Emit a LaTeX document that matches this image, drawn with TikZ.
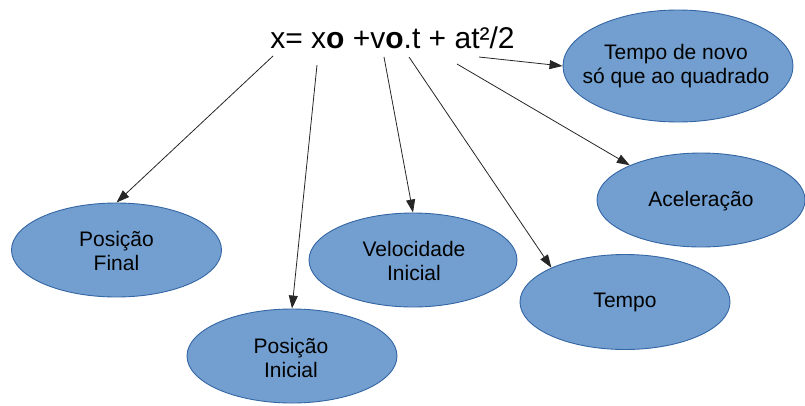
\documentclass[tikz,border=0pt]{standalone}
\usepackage{fontspec}
\setmainfont{Liberation Sans}
\usetikzlibrary{shapes.geometric,arrows.meta}
\definecolor{bfill}{HTML}{729FCF}
\definecolor{bline}{HTML}{3465A4}
\tikzset{
  bubble/.style={ellipse,draw=bline,line width=0.9pt,fill=bfill,inner sep=0pt,
    minimum width=210pt,minimum height=94pt},
  lbl/.style={align=center,font=\fontsize{21}{24}\selectfont,text=black,inner sep=0pt},
  conn/.style={draw=black!85,line width=0.8pt,-{Triangle[length=13pt,width=9pt]}}
}
\begin{document}
\begin{tikzpicture}[x=1pt,y=-1pt]
\useasboundingbox (0,0) rectangle (805,405);
% bubbles
\node[bubble] (pf) at (116.5,250) {};
\node[bubble] (pi) at (292,356) {};
\node[bubble,minimum width=208pt] (vi) at (413,260) {};
\node[bubble,minimum height=95pt] (te) at (625,302) {};
\node[bubble,minimum width=208pt] (ac) at (701,200) {};
\node[bubble,minimum width=230pt,minimum height=112pt] (tq) at (678,66) {};
% labels
\node[lbl] (tpf) at (116.5,251) {Posição\\Final};
\node[lbl] (tpi) at (291,358) {Posição\\Inicial};
\node[lbl] (tvi) at (414,261) {Velocidade\\Inicial};
\node[lbl] (tte) at (625,302) {Tempo};
\node[lbl] (tac) at (701,201) {Aceleração};
\node[lbl] (ttq) at (676,66) {Tempo de novo\\só que ao quadrado};
% equation
\node[anchor=base,inner sep=0pt,font=\fontsize{30}{36}\selectfont] (eq) at (392.5,48)
  {x= x\textbf{o} +v\textbf{o}.t + at²/2};
% connector starts
\coordinate (s1) at (273,56);
\coordinate (s2) at (317,65);
\coordinate (s3) at (384,57);
\coordinate (s4) at (409,57);
\coordinate (s5) at (457,64);
\coordinate (s6) at (479,57);
% connectors
\draw[conn] (s1) -- (pf.north);
\draw[conn] (s2) -- (pi.north);
\draw[conn] (s3) -- (vi.north);
\draw[conn] (s4) -- (te.155);
\draw[conn] (s5) -- (ac.154);
\draw[conn] (s6) -- (tq.west);
\end{tikzpicture}
\end{document}
